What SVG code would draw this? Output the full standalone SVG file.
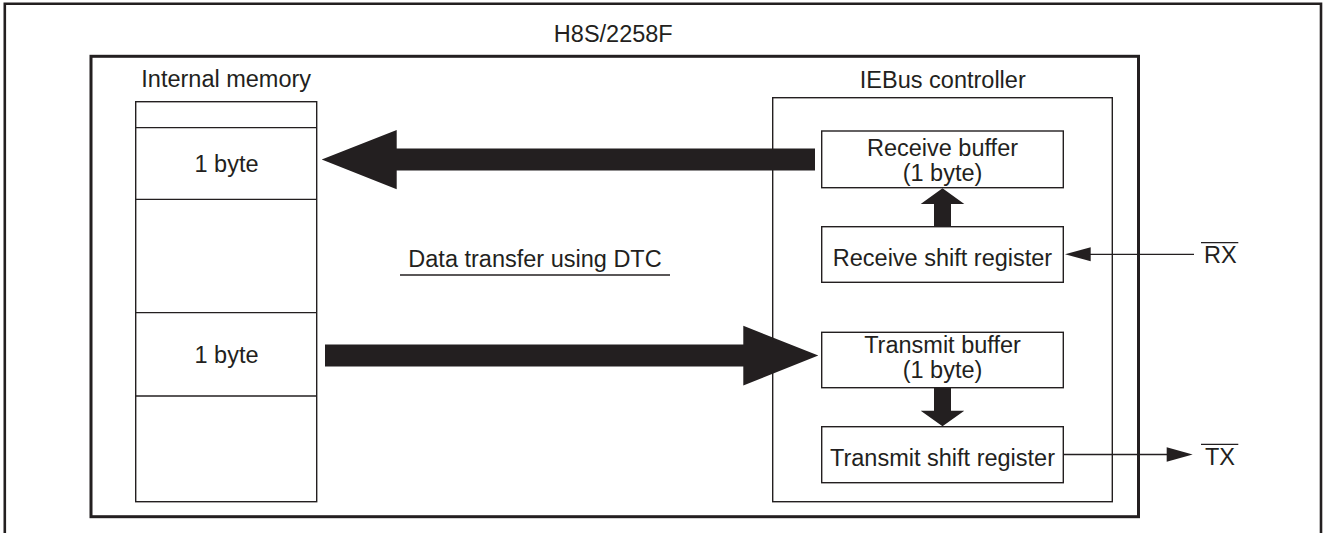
<svg xmlns="http://www.w3.org/2000/svg" width="1323" height="533" viewBox="0 0 1323 533">
  <style>
    .lbl { font-family: "Liberation Sans", Arial, Helvetica, sans-serif; font-size: 23.5px; fill: #231f20; text-anchor: middle; }
    .box { fill: #ffffff; stroke: #231f20; stroke-width: 1.4; }
    .thick { fill: none; stroke: #231f20; stroke-width: 3; }
    .wire { fill: none; stroke: #231f20; stroke-width: 1.3; }
    .solid { fill: #231f20; stroke: none; }
  </style>

  <rect width="1323" height="533" fill="#ffffff"/>

  <!-- outer frame (open at the bottom) -->
  <path d="M4.8,540 V3.8 H1321 V540" fill="none" stroke="#231f20" stroke-width="2.6"/>
  <text class="lbl" x="613.3" y="41.7">H8S/2258F</text>

  <!-- chip boundary -->
  <g id="chip">
    <rect class="thick" x="91" y="56.3" width="1047.5" height="460.4"/>
  </g>

  <!-- internal memory column -->
  <g id="internal-memory">
    <text class="lbl" x="226.2" y="87.3">Internal memory</text>
    <rect class="box" x="135.7" y="101.7" width="181" height="400"/>
    <line class="wire" x1="135.7" y1="127.7" x2="316.7" y2="127.7"/>
    <line class="wire" x1="135.7" y1="199.3" x2="316.7" y2="199.3"/>
    <line class="wire" x1="135.7" y1="312.7" x2="316.7" y2="312.7"/>
    <line class="wire" x1="135.7" y1="396" x2="316.7" y2="396"/>
    <text class="lbl" x="226.5" y="171.5">1 byte</text>
    <text class="lbl" x="226.5" y="362.5">1 byte</text>
  </g>

  <!-- IEBus controller -->
  <g id="iebus-controller">
    <text class="lbl" x="942.8" y="88.3">IEBus controller</text>
    <rect class="box" x="772.7" y="97.7" width="339.6" height="404"/>
  </g>

  <g id="receive-buffer">
    <rect class="box" x="821.7" y="131" width="241.6" height="56.7"/>
    <text class="lbl" x="942.5" y="156">Receive buffer</text>
    <text class="lbl" x="942.5" y="181">(1 byte)</text>
  </g>

  <g id="receive-shift-register">
    <rect class="box" x="821.7" y="226.7" width="241.6" height="55.6"/>
    <text class="lbl" x="942.5" y="266">Receive shift register</text>
  </g>

  <g id="transmit-buffer">
    <rect class="box" x="821.7" y="332.3" width="241.6" height="55.4"/>
    <text class="lbl" x="942.5" y="353.3">Transmit buffer</text>
    <text class="lbl" x="942.5" y="378.3">(1 byte)</text>
  </g>

  <g id="transmit-shift-register">
    <rect class="box" x="821.7" y="426.7" width="241.6" height="56"/>
    <text class="lbl" x="942.5" y="466">Transmit shift register</text>
  </g>

  <g id="dtc-label">
    <text class="lbl" x="535" y="266.7">Data transfer using DTC</text>
    <line class="wire" x1="400" y1="275" x2="670" y2="275"/>
  </g>

  <g id="pin-rx">
    <text class="lbl" x="1220.3" y="263.3">RX</text>
    <line class="wire" x1="1201" y1="242.7" x2="1238.3" y2="242.7"/>
  </g>

  <g id="pin-tx">
    <text class="lbl" x="1220" y="465">TX</text>
    <line class="wire" x1="1201" y1="444.3" x2="1238.3" y2="444.3"/>
  </g>

  <!-- connectors -->
  <g id="connectors">
    <!-- receive buffer to memory (DTC) -->
    <polygon class="solid" points="321.7,159.5 396.7,130 396.7,148.5 815,148.5 815,170.5 396.7,170.5 396.7,189.3"/>
    <!-- memory to transmit buffer (DTC) -->
    <polygon class="solid" points="325,344.5 743.3,344.5 743.3,325.7 818.3,355.5 743.3,385.5 743.3,366.5 325,366.5"/>
    <!-- receive shift register to receive buffer -->
    <polygon class="solid" points="934,226.7 934,204 920.7,204 942.5,188.3 964.3,204 951,204 951,226.7"/>
    <!-- transmit buffer to transmit shift register -->
    <polygon class="solid" points="934,387.7 951,387.7 951,410.7 964.3,410.7 942.5,426.2 920.7,410.7 934,410.7"/>
    <!-- RX pin input -->
    <line class="wire" x1="1194" y1="254.3" x2="1088" y2="254.3"/>
    <polygon class="solid" points="1065,254.3 1090.7,247.3 1090.7,261.3"/>
    <!-- TX pin output -->
    <line class="wire" x1="1063.3" y1="454.5" x2="1170" y2="454.5"/>
    <polygon class="solid" points="1192.7,454.5 1166.7,447.3 1166.7,461.7"/>
  </g>
</svg>
